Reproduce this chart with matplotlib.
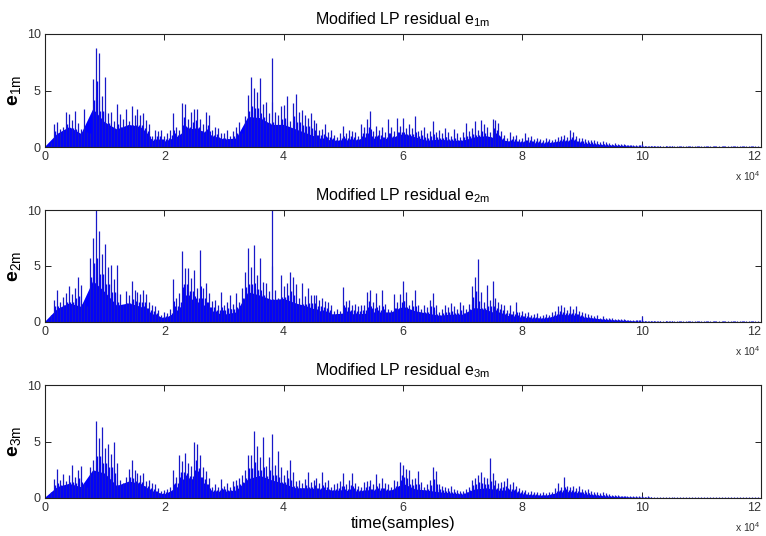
import matplotlib
matplotlib.use("Agg")
import matplotlib.pyplot as plt
import numpy as np

plt.rcParams['font.family'] = ['Liberation Sans', 'DejaVu Sans']
plt.rcParams['mathtext.fontset'] = 'custom'
plt.rcParams['mathtext.rm'] = 'Liberation Sans'
plt.rcParams['mathtext.bf'] = 'Liberation Sans:bold'

# peak (spike) heights, one every 500 samples, 0 ... 119500
step = 500
peaks_e1 = [
    0.1, 0.2, 0.4, 2.0, 2.2, 1.6, 1.8, 3.1, 2.9, 2.4, 3.2, 2.1, 1.6, 3.4, 1.3, 1.2, 6.0, 8.8, 8.3, 4.5,
    6.2, 3.0, 3.1, 2.3, 3.8, 2.9, 2.5, 3.4, 2.3, 3.6, 2.8, 3.4, 2.8, 3.0, 2.4, 2.0, 1.0, 1.5, 1.4, 1.5,
    1.0, 1.2, 1.5, 3.0, 1.8, 1.5, 3.9, 3.8, 2.5, 3.1, 3.4, 3.4, 2.5, 2.0, 3.1, 2.8, 1.5, 1.8, 1.7, 1.2,
    1.2, 1.5, 1.0, 1.4, 1.8, 2.2, 1.2, 2.7, 4.6, 6.2, 5.2, 4.9, 6.1, 3.8, 4.0, 3.0, 7.9, 3.1, 2.8, 3.6,
    3.7, 4.5, 2.3, 3.9, 4.7, 3.1, 3.3, 2.8, 2.6, 3.0, 2.4, 2.1, 1.5, 1.6, 2.0, 1.3, 1.5, 1.1, 0.9, 1.2,
    1.9, 1.2, 1.5, 1.4, 1.3, 1.0, 2.0, 1.8, 2.5, 3.2, 1.4, 1.9, 1.5, 1.8, 1.3, 2.5, 1.8, 1.4, 2.6, 1.9,
    2.6, 1.7, 2.0, 1.7, 2.7, 1.4, 1.5, 1.8, 1.2, 1.4, 2.3, 1.3, 1.5, 1.2, 1.7, 1.3, 1.0, 1.6, 1.2, 0.9,
    1.3, 2.1, 1.4, 1.7, 2.3, 1.5, 2.4, 2.0, 1.8, 1.3, 2.5, 2.4, 2.1, 1.4, 1.1, 0.8, 1.3, 1.0, 1.1, 0.7,
    0.8, 1.2, 0.9, 1.0, 0.7, 0.8, 0.7, 0.6, 0.8, 0.7, 0.6, 0.7, 0.9, 1.0, 1.1, 0.9, 1.5, 1.3, 1.0, 0.8,
    0.8, 0.7, 0.6, 0.6, 0.6, 0.5, 0.4, 0.5, 0.4, 0.35, 0.3, 0.35, 0.3, 0.25, 0.3, 0.2, 0.2, 0.2, 0.15, 0.2,
    0.3, 0.1, 0.08, 0.1, 0.12, 0.08, 0.1, 0.06, 0.1, 0.08, 0.12, 0.06, 0.08, 0.1, 0.06, 0.08, 0.12, 0.06, 0.08, 0.1,
    0.06, 0.08, 0.1, 0.06, 0.12, 0.08, 0.06, 0.1, 0.08, 0.06, 0.08, 0.1, 0.06, 0.08, 0.12, 0.06, 0.08, 0.1, 0.06, 0.08,
]
peaks_e2 = [
    0.1, 0.2, 0.6, 2.0, 2.9, 1.8, 2.2, 2.6, 3.2, 2.5, 3.0, 4.0, 3.3, 1.8, 1.4, 5.7, 7.5, 10.0, 8.1, 6.1,
    7.0, 4.9, 5.1, 3.8, 5.1, 2.5, 1.5, 2.8, 2.4, 3.7, 2.9, 2.7, 2.5, 2.9, 2.5, 1.8, 1.5, 1.4, 1.1, 0.6,
    0.9, 0.8, 1.2, 3.8, 2.1, 2.6, 6.3, 4.8, 4.8, 3.9, 4.6, 3.0, 6.4, 3.0, 3.5, 2.6, 1.9, 2.0, 1.5, 2.7,
    1.5, 1.8, 2.4, 1.6, 2.6, 1.8, 3.0, 4.5, 6.6, 4.9, 6.9, 4.2, 5.7, 3.6, 3.5, 2.8, 10.0, 2.9, 2.1, 4.2,
    3.2, 3.5, 4.5, 4.0, 3.4, 2.1, 3.5, 2.3, 3.0, 2.4, 2.4, 2.4, 2.0, 2.1, 1.9, 1.8, 1.5, 1.0, 1.2, 1.0,
    3.1, 1.9, 2.0, 1.5, 1.6, 1.4, 1.5, 1.5, 2.7, 2.9, 1.8, 2.6, 1.5, 2.9, 1.6, 1.2, 1.1, 2.5, 1.8, 2.5,
    3.7, 2.7, 1.5, 2.0, 2.9, 1.5, 1.2, 1.5, 1.3, 2.0, 2.6, 1.5, 0.9, 1.2, 1.5, 1.3, 1.7, 1.4, 1.2, 1.8,
    1.5, 1.2, 1.6, 3.2, 4.0, 5.6, 2.7, 1.8, 3.3, 2.0, 3.7, 2.1, 1.8, 1.6, 1.5, 1.1, 1.5, 1.0, 1.8, 0.9,
    1.0, 0.8, 0.9, 0.6, 0.7, 0.8, 0.5, 0.6, 0.7, 0.6, 0.9, 1.0, 1.4, 1.5, 1.3, 1.1, 1.4, 1.2, 1.4, 1.0,
    0.9, 0.8, 0.7, 0.6, 0.5, 0.6, 0.4, 0.5, 0.4, 0.35, 0.4, 0.3, 0.3, 0.25, 0.3, 0.2, 0.2, 0.15, 0.2, 0.2,
    0.5, 0.1, 0.08, 0.1, 0.12, 0.08, 0.1, 0.06, 0.1, 0.08, 0.12, 0.06, 0.08, 0.1, 0.06, 0.08, 0.12, 0.06, 0.08, 0.1,
    0.06, 0.08, 0.1, 0.06, 0.12, 0.08, 0.06, 0.1, 0.08, 0.06, 0.08, 0.1, 0.06, 0.08, 0.12, 0.06, 0.08, 0.1, 0.06, 0.08,
]
peaks_e3 = [
    0.1, 0.2, 0.5, 1.7, 2.6, 1.6, 2.1, 1.5, 2.0, 2.9, 1.9, 2.5, 2.8, 1.3, 1.0, 2.7, 3.4, 6.8, 5.3, 6.3,
    4.4, 4.8, 3.9, 5.0, 3.1, 1.6, 1.3, 1.9, 2.6, 3.4, 2.5, 2.2, 2.0, 2.2, 1.5, 1.6, 1.3, 1.2, 0.9, 0.6,
    0.7, 0.8, 1.0, 2.5, 1.9, 3.8, 3.3, 4.0, 3.1, 2.8, 5.0, 4.8, 3.8, 2.7, 2.4, 1.8, 1.0, 1.2, 1.0, 1.7,
    1.1, 1.3, 1.0, 1.5, 1.6, 1.8, 2.0, 2.5, 3.8, 3.8, 5.9, 4.6, 3.6, 5.4, 2.8, 3.6, 5.7, 2.9, 4.2, 2.7,
    2.0, 2.5, 3.4, 2.3, 1.5, 1.6, 1.3, 1.7, 2.3, 1.4, 1.6, 1.8, 1.3, 2.3, 1.4, 1.6, 1.0, 1.2, 1.3, 1.5,
    2.2, 1.2, 1.6, 2.2, 1.3, 1.1, 1.0, 1.4, 1.5, 1.6, 1.2, 2.1, 1.3, 1.8, 1.3, 1.2, 1.0, 1.6, 1.5, 3.2,
    2.9, 2.6, 2.5, 1.7, 1.8, 2.4, 1.4, 1.0, 1.2, 1.6, 2.7, 2.4, 1.2, 1.1, 1.0, 0.9, 1.1, 0.8, 0.7, 0.6,
    0.6, 0.8, 1.0, 1.6, 1.8, 2.0, 2.3, 1.9, 1.8, 3.5, 2.2, 1.6, 1.3, 1.4, 1.5, 1.8, 1.2, 1.4, 1.1, 0.9,
    0.7, 0.7, 0.5, 0.6, 0.5, 0.5, 0.4, 0.5, 0.4, 0.5, 0.5, 0.9, 1.3, 1.0, 1.9, 1.1, 1.0, 1.1, 0.9, 1.1,
    0.8, 0.7, 0.8, 0.6, 0.5, 0.5, 0.4, 0.5, 0.4, 0.35, 0.3, 0.3, 0.25, 0.2, 0.2, 0.2, 0.15, 0.15, 0.15, 0.15,
    0.15, 0.1, 0.15, 0.1, 0.06, 0.08, 0.05, 0.06, 0.08, 0.05, 0.06, 0.05, 0.08, 0.05, 0.06, 0.05, 0.08, 0.05, 0.06, 0.05,
    0.05, 0.06, 0.05, 0.08, 0.05, 0.06, 0.05, 0.05, 0.06, 0.05, 0.08, 0.05, 0.06, 0.05, 0.05, 0.06, 0.05, 0.08, 0.05, 0.05,
]

# dense body level under the spikes, one every 2000 samples, 0 ... 118000
body_step = 2000
body_e1 = [0.1, 1.2, 1.8, 1.2, 3.4, 2.2, 1.6, 2.0, 1.8, 0.6, 0.5, 0.9, 1.7, 1.5, 1.0,
           0.7, 0.8, 2.7, 2.6, 2.0, 2.0, 1.6, 1.2, 0.8, 0.6, 0.6, 0.6, 0.9, 0.7, 0.8,
           1.2, 0.9, 0.6, 0.7, 0.6, 0.6, 0.9, 1.0, 0.7, 0.5, 0.45, 0.35, 0.35, 0.5, 0.55,
           0.35, 0.28, 0.18, 0.14, 0.1, 0.05, 0.03, 0.03, 0.03, 0.03, 0.03, 0.03, 0.03, 0.03, 0.03]
body_e2 = [0.1, 1.2, 1.7, 1.4, 3.7, 2.7, 1.5, 1.7, 1.4, 0.7, 0.35, 0.9, 2.2, 1.7, 0.9,
           0.7, 0.9, 2.7, 2.4, 2.0, 2.1, 1.7, 1.4, 1.0, 0.7, 0.8, 0.7, 0.8, 0.9, 0.9,
           1.4, 1.0, 0.8, 0.6, 0.7, 0.7, 1.3, 1.1, 0.7, 0.55, 0.4, 0.35, 0.35, 0.65, 0.65,
           0.45, 0.35, 0.22, 0.17, 0.12, 0.06, 0.03, 0.03, 0.03, 0.03, 0.03, 0.03, 0.03, 0.03, 0.03]
body_e3 = [0.1, 1.0, 1.3, 1.0, 2.5, 2.2, 1.1, 1.5, 1.3, 0.6, 0.35, 0.9, 1.8, 1.5, 0.6,
           0.6, 0.7, 1.7, 2.0, 1.6, 1.3, 0.9, 0.9, 0.8, 0.7, 0.7, 0.6, 0.7, 0.7, 0.7,
           1.3, 0.8, 0.7, 0.55, 0.45, 0.35, 0.8, 0.9, 0.7, 0.55, 0.35, 0.25, 0.25, 0.5, 0.55,
           0.4, 0.28, 0.18, 0.12, 0.09, 0.05, 0.03, 0.03, 0.03, 0.03, 0.03, 0.03, 0.03, 0.03, 0.03]

names = ['1m', '2m', '3m']
all_peaks = [peaks_e1, peaks_e2, peaks_e3]
all_body = [body_e1, body_e2, body_e3]

W, H = 766, 536
fig = plt.figure(figsize=(W / 100, H / 100), dpi=100)

# axes boxes in pixels: (top, bottom)
boxes = [(34, 147), (210, 322), (385, 498)]
left, right = 45, 761

for i in range(3):
    top, bot = boxes[i]
    ax = fig.add_axes([left / W, 1 - bot / H, (right - left) / W, (bot - top) / H])
    pk = np.array(all_peaks[i])
    bd = np.array(all_body[i])
    xp = np.arange(len(pk)) * step
    xb = np.arange(len(bd)) * body_step
    ax.fill_between(xb, 0, bd, color='#0000ff', lw=0)
    # in-between lines, lower than neighbouring spikes
    mid = np.minimum(pk[:-1], pk[1:])
    ax.vlines(xp[:-1] + step / 2, 0, mid * 0.7, color='#0000ff', lw=1.0)
    ax.vlines(xp[:-1] + step / 4, 0, pk[:-1] * 0.5, color='#0000ff', lw=0.8)
    ax.vlines(xp, 0, pk, color='#1818c8', lw=0.9)

    ax.set_xlim(0, 120000)
    ax.set_ylim(0, 10)
    ax.set_xticks(np.arange(0, 120001, 20000))
    ax.set_xticklabels([str(v) for v in range(0, 13, 2)])
    ax.get_xticklabels()[-1].set_horizontalalignment('right')
    ax.set_yticks([0, 5, 10])
    ax.tick_params(direction='in', top=True, right=True, length=4, width=0.7,
                   labelsize=9, colors='#222222', labelcolor='#333333', pad=3)
    for s in ax.spines.values():
        s.set_linewidth(0.8)
        s.set_color('#222222')

    ax.set_title('Modified LP residual e$_{\\mathregular{%s}}$' % names[i],
                 fontsize=11.5, pad=7)
    ax.set_ylabel('$\\mathbf{e}_{\\mathregular{%s}}$' % names[i], fontsize=14, labelpad=2)
    ax.text(1.0, -0.26, 'x 10$^{\\mathregular{4}}$', transform=ax.transAxes,
            ha='right', va='center', fontsize=7.5, color='#333333')
    if i == 2:
        ax.set_xlabel('time(samples)', fontsize=12, labelpad=1)

fig.savefig('out.png', dpi=100)
